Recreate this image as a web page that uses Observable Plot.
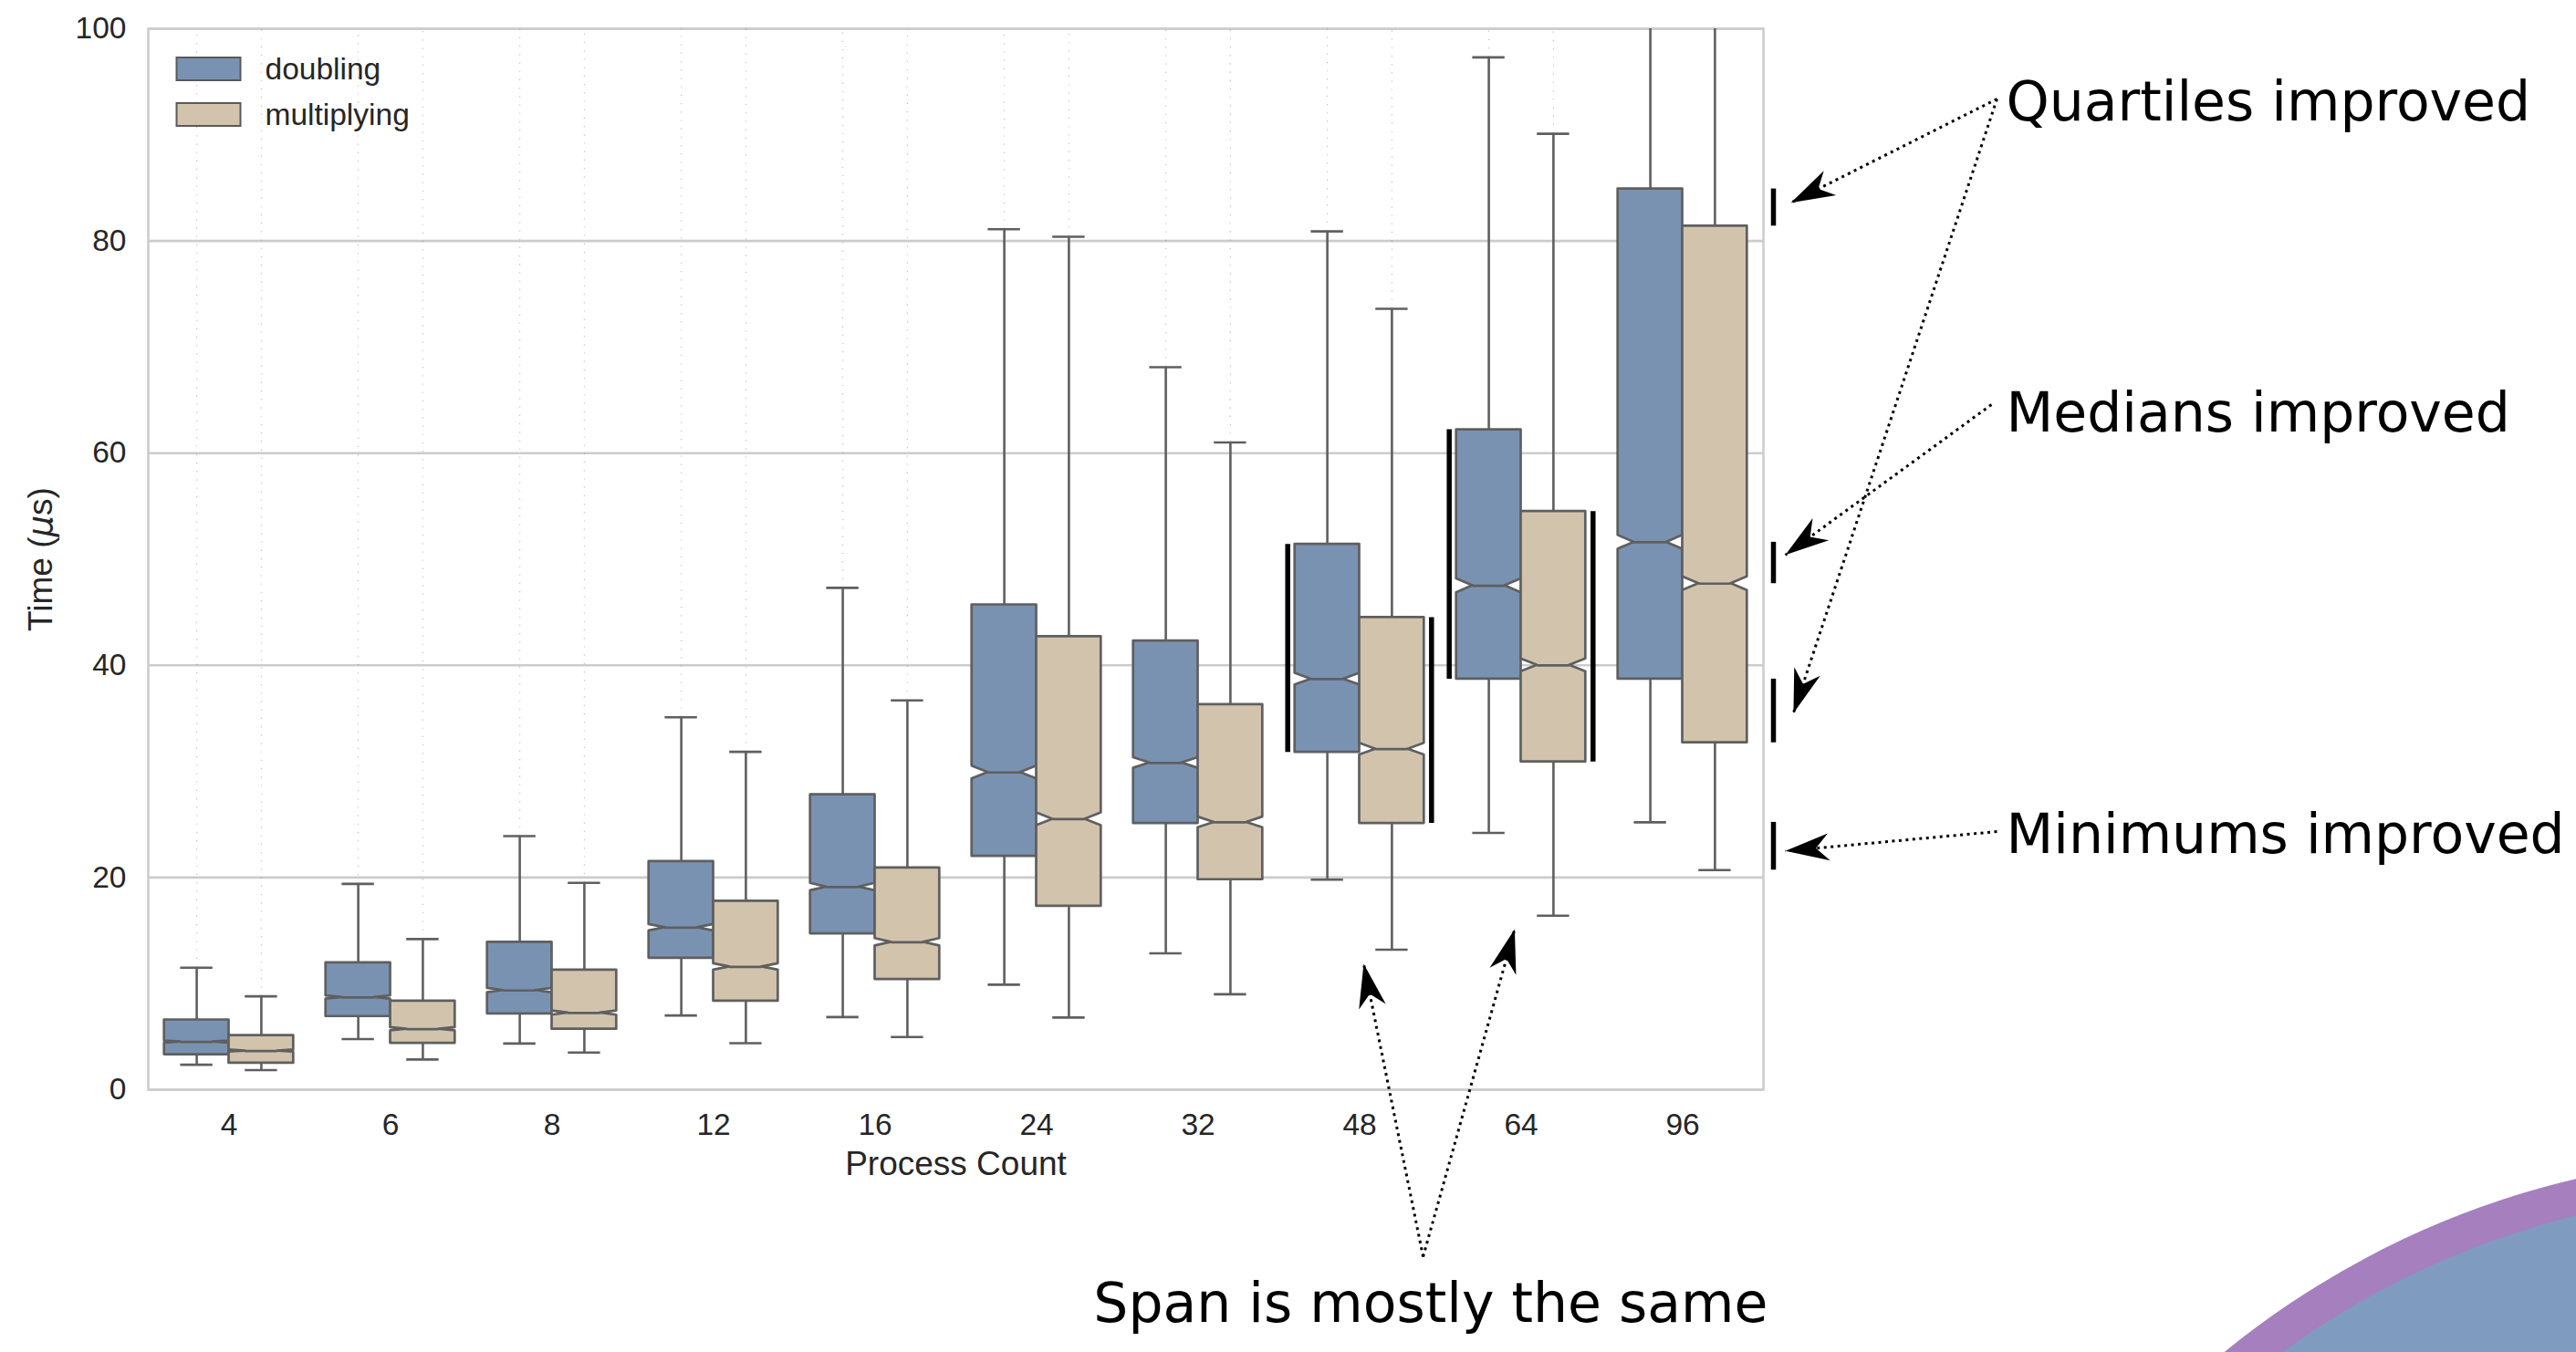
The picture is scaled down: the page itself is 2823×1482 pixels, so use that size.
<!DOCTYPE html>
<html><head><meta charset="utf-8">
<script src="https://cdn.jsdelivr.net/npm/d3@7"></script>
<script src="https://cdn.jsdelivr.net/npm/@observablehq/plot@0.6"></script>
<style>
html,body{margin:0;padding:0;background:#fff;width:2823px;height:1482px;overflow:hidden;position:relative;}
#chart{position:absolute;left:0;top:0;}
.deco{position:absolute;border-radius:50%;}
#ring{left:2087px;top:1267px;width:1908px;height:1908px;background:#a57fbe;}
#disc{left:2126px;top:1306px;width:1830px;height:1830px;background:#7f9bbf;}
</style></head><body>
<div id="chart"></div>
<div class="deco" id="ring"></div><div class="deco" id="disc"></div>
<script>
// ---------- data ----------
const categories = ["4", "6", "8", "12", "16", "24", "32", "48", "64", "96"];
const series = ["doubling", "multiplying"];
const seriesColors = ["#7a92b2", "#d2c4ac"];
const yTicks = [0, 20, 40, 60, 80, 100];
const xLabel = "Process Count";
const yLabel = "Time (μs)";

const doublingQ1  = [3.3, 6.9, 7.15, 12.4, 14.7, 22.0, 25.1, 31.8, 38.7, 38.7];
const doublingMed = [4.5, 8.7, 9.35, 15.27, 19.1, 29.9, 30.8, 38.7, 47.5, 51.6];
const doublingQ3  = [6.58, 11.96, 13.9, 21.5, 27.8, 45.7, 42.3, 51.4, 62.2, 84.9];
const doublingLo  = [2.35, 4.77, 4.35, 7.0, 6.85, 9.9, 12.85, 19.8, 24.2, 25.2];
const doublingHi  = [11.5, 19.4, 23.9, 35.1, 47.3, 81.1, 68.1, 80.9, 97.3, 130];
const doublingCI  = [0.1, 0.15, 0.2, 0.3, 0.35, 0.6, 0.5, 0.55, 0.65, 0.65];

const multiplyingQ1  = [2.5, 4.38, 5.7, 8.35, 10.4, 17.3, 19.8, 25.1, 30.9, 32.7];
const multiplyingMed = [3.65, 5.7, 7.23, 11.58, 13.9, 25.5, 25.2, 32.1, 40.0, 47.7];
const multiplyingQ3  = [5.1, 8.35, 11.27, 17.77, 20.9, 42.7, 36.3, 44.5, 54.5, 81.4];
const multiplyingLo  = [1.85, 2.85, 3.5, 4.38, 4.96, 6.8, 9.0, 13.2, 16.4, 20.7];
const multiplyingHi  = [8.8, 14.2, 19.5, 31.85, 36.7, 80.4, 61.0, 73.6, 90.1, 135];
const multiplyingCI  = [0.1, 0.15, 0.2, 0.3, 0.35, 0.6, 0.5, 0.55, 0.6, 0.65];

const spanCategories = ["48", "64"];
const compareCategory = "96";

// annotations (text & arrows, in chart units)
const notes = [
  {text: "Quartiles improved", x: 11.003, y: 93.04, anchor: "start"},
  {text: "Medians improved", x: 11.003, y: 63.71, anchor: "start"},
  {text: "Minimums improved", x: 11.003, y: 23.99, anchor: "start"},
  {text: "Span is mostly the same", x: 7.44, y: -20.2, anchor: "middle"}
];
const arrows = [
  {x1: 10.946, y1: 93.38, x2: 9.67, y2: 83.6},
  {x1: 10.946, y1: 93.38, x2: 9.686, y2: 35.5},
  {x1: 10.912, y1: 64.57, x2: 9.636, y2: 50.4},
  {x1: 10.946, y1: 24.33, x2: 9.636, y2: 22.5},
  {x1: 7.393, y1: -15.74, x2: 7.025, y2: 11.87},
  {x1: 7.393, y1: -15.74, x2: 7.96, y2: 15.13}
];

// ---------- build ----------
const HW = 0.2; // half box width (category units)
const src = [
  {q1: doublingQ1, med: doublingMed, q3: doublingQ3, lo: doublingLo, hi: doublingHi, ci: doublingCI},
  {q1: multiplyingQ1, med: multiplyingMed, q3: multiplyingQ3, lo: multiplyingLo, hi: multiplyingHi, ci: multiplyingCI}
];
const boxes = [];
series.forEach((s, si) => {
  categories.forEach((c, i) => {
    const d = src[si];
    boxes.push({series: s, si, cat: c, i, center: i + (si - 0.5) * 2 * HW,
      q1: d.q1[i], med: d.med[i], q3: d.q3[i], lo: d.lo[i], hi: d.hi[i], ci: d.ci[i]});
  });
});
const outline = boxes.flatMap(b => {
  const L = b.center - HW, R = b.center + HW, Li = b.center - HW / 2, Ri = b.center + HW / 2;
  return [[b.q1, L, R], [b.med - b.ci, L, R], [b.med, Li, Ri], [b.med + b.ci, L, R], [b.q3, L, R]]
    .map(([y, x1, x2]) => ({key: b.series + b.cat, series: b.series, y, x1, x2}));
});
const yMax = yTicks[yTicks.length - 1];
const ci = categories.indexOf(compareCategory);
const cmpPairs = ["q3", "med", "q1", "lo"].map(k => ({y1: src[0][k][ci], y2: src[1][k][ci]}));
const xEnd = categories.length - 0.5;

const LINE = "#5f5f5f";
const patch = {draw(ctx) { ctx.rect(-35, -12.5, 70, 25); }};
const stealth = {draw(ctx) { const L = 48, W = 30; ctx.moveTo(0, 0); ctx.lineTo(-L, -W / 2); ctx.lineTo(-0.7 * L, 0); ctx.lineTo(-L, W / 2); ctx.closePath(); }};

function baseMarks() {
  return [
    Plot.ruleY(yTicks, {stroke: "#cccccc", strokeWidth: 2.6}),
    Plot.frame({stroke: "#cccccc", strokeWidth: 2.6}),
    // fliers
    Plot.ruleX(boxes.filter(b => b.hi < yMax), {x: "center", y1: "hi", y2: () => yMax, stroke: "#666", strokeWidth: 1.2, strokeOpacity: 0.4, strokeDasharray: "1.2 8"}),
    // whiskers
    Plot.ruleX(boxes, {x: "center", y1: "q3", y2: "hi", stroke: LINE, strokeWidth: 2.6, clip: true}),
    Plot.ruleX(boxes, {x: "center", y1: "q1", y2: "lo", stroke: LINE, strokeWidth: 2.6}),
    Plot.ruleY(boxes, {y: "hi", x1: d => d.center - HW / 2, x2: d => d.center + HW / 2, stroke: LINE, strokeWidth: 2.6, clip: true}),
    Plot.ruleY(boxes, {y: "lo", x1: d => d.center - HW / 2, x2: d => d.center + HW / 2, stroke: LINE, strokeWidth: 2.6}),
    // notched boxes
    Plot.areaX(outline, {y: "y", x1: "x1", x2: "x2", z: "key", fill: "series", stroke: LINE, strokeWidth: 2.7, curve: "linear"}),
    Plot.ruleY(boxes, {y: "med", x1: d => d.center - HW / 2, x2: d => d.center + HW / 2, stroke: LINE, strokeWidth: 2.7}),
    // span bars
    Plot.ruleX(boxes.filter(b => b.si === 0 && spanCategories.includes(b.cat)), {x: d => d.center - HW, y1: "q1", y2: "q3", dx: -8, stroke: "black", strokeWidth: 5.5}),
    Plot.ruleX(boxes.filter(b => b.si === 1 && spanCategories.includes(b.cat)), {x: d => d.center + HW, y1: "q1", y2: "q3", dx: 8, stroke: "black", strokeWidth: 5.5}),
    // comparison bars at right
    Plot.ruleX(cmpPairs, {x: () => xEnd, y1: "y1", y2: "y2", dx: 11, stroke: "black", strokeWidth: 5.5}),
    // legend
    ...series.map((s, k) => Plot.dot([s], {frameAnchor: "top-left", dx: 66, dy: 44 + k * 50, symbol: patch, r: 5, fill: d => d, stroke: "#5a5a5a", strokeWidth: 2})),
    ...series.map((s, k) => Plot.text([s], {frameAnchor: "top-left", dx: 128, dy: 45 + k * 50, text: d => d, textAnchor: "start", lineAnchor: "middle", fontSize: 33.5, fill: "#262626"})),
    // axis labels
    Plot.text([xLabel], {frameAnchor: "bottom", dy: 82, text: d => d, textAnchor: "middle", lineAnchor: "middle", fontSize: 37, fill: "#262626"}),
    Plot.text([yLabel], {frameAnchor: "left", dx: -117, rotate: -90, text: d => d, textAnchor: "middle", lineAnchor: "middle", fontSize: 37, fill: "#262626"}),
    // annotations
    Plot.link(arrows, {x1: "x1", y1: "y1", x2: "x2", y2: "y2", stroke: "black", strokeWidth: 3, strokeDasharray: "3 4.5"}),
    Plot.text(notes.filter(n => n.anchor === "start"), {x: "x", y: "y", text: "text", textAnchor: "start", lineAnchor: "middle", fontSize: 60, fontFamily: "DejaVu Sans", fill: "black"}),
    Plot.text(notes.filter(n => n.anchor === "middle"), {x: "x", y: "y", text: "text", textAnchor: "middle", lineAnchor: "middle", fontSize: 60, fontFamily: "DejaVu Sans", fill: "black"})
  ];
}

function options(extra) {
  return {
    width: 2823, height: 1482,
    marginLeft: 162, marginRight: 891, marginTop: 31, marginBottom: 288,
    style: {fontFamily: "'Liberation Sans', Arial, sans-serif", fontSize: "33.5px", color: "#262626", background: "transparent", maxWidth: "none", overflow: "visible"},
    x: {domain: [-0.5, categories.length - 0.5], ticks: categories.map((_, i) => i), tickFormat: i => categories[i], tickSize: 0, tickPadding: 26, label: null},
    y: {domain: [0, yMax], ticks: yTicks, tickSize: 0, tickPadding: 24, label: null},
    color: {domain: series, range: seriesColors},
    marks: [...baseMarks(), ...extra]
  };
}

// first pass: get scales to orient arrowheads in screen space
const probe = Plot.plot(options([]));
const sx = probe.scale("x"), sy = probe.scale("y");
const heads = arrows.map(a => {
  const dx = sx.apply(a.x2) - sx.apply(a.x1), dy = sy.apply(a.y2) - sy.apply(a.y1);
  return {x: a.x2, y: a.y2, angle: Math.atan2(dy, dx) * 180 / Math.PI};
});
const chart = Plot.plot(options([
  Plot.dot(heads, {x: "x", y: "y", rotate: "angle", symbol: stealth, r: 10, fill: "black", stroke: "none"})
]));
document.getElementById("chart").appendChild(chart);

// italic mu in y label
chart.querySelectorAll("text").forEach(t => {
  if (t.textContent === yLabel) {
    const parts = yLabel.split("μ");
    t.textContent = "";
    const ns = "http://www.w3.org/2000/svg";
    const a = document.createElementNS(ns, "tspan"); a.textContent = parts[0];
    const m = document.createElementNS(ns, "tspan"); m.textContent = "μ"; m.setAttribute("font-style", "italic"); m.setAttribute("font-family", "DejaVu Sans");
    const b = document.createElementNS(ns, "tspan"); b.textContent = parts[1];
    t.append(a, m, b);
  }
});
</script>
</body></html>
